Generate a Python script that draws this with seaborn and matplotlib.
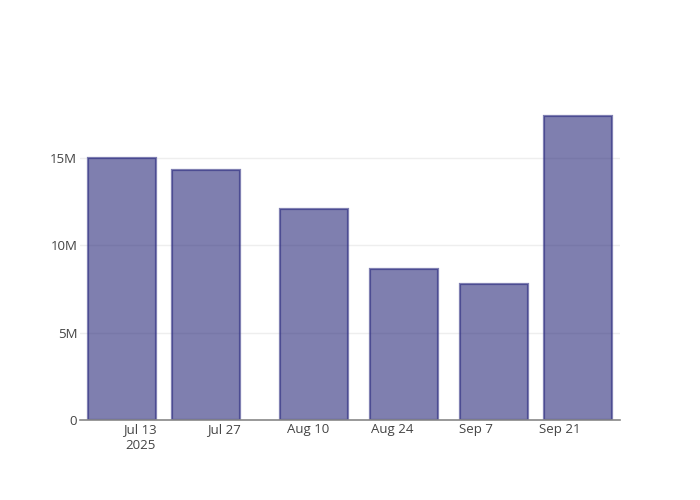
import pandas as pd
import seaborn as sns
import matplotlib.pyplot as plt
import matplotlib.dates as mdates

sns.set_theme(style='white')
plt.rcParams['font.family'] = ['Open Sans', 'DejaVu Sans']

# bar dates and values
dates = ['2025-07-10', '2025-07-24', '2025-08-11', '2025-08-26', '2025-09-10', '2025-09-24']
values = [14.95e6, 14.28e6, 12.06e6, 8.63e6, 7.77e6, 17.37e6]
tick_dates = ['2025-07-13', '2025-07-27', '2025-08-10', '2025-08-24', '2025-09-07', '2025-09-21']
y_ticks = [0, 5e6, 10e6, 15e6]
y_labels = ['0', '5M', '10M', '15M']

df = pd.DataFrame({'date': mdates.date2num(pd.to_datetime(dates)), 'value': values})

fig = plt.figure(figsize=(7, 5), dpi=100)
ax = fig.add_axes([80/700, 80/500, 540/700, 320/500])

sns.barplot(data=df, x='date', y='value', native_scale=True, width=0.8,
            color=(0.165, 0.165, 0.48), alpha=0.6, saturation=1,
            edgecolor=(0.17, 0.17, 0.5), linewidth=1.6, ax=ax)

ax.set_xlim(mdates.date2num(pd.Timestamp('2025-07-03')), mdates.date2num(pd.Timestamp('2025-10-01')))
ax.set_ylim(0, 18.29e6)

tick_nums = mdates.date2num(pd.to_datetime(tick_dates))
ax.set_xticks(tick_nums)
xlabels = [pd.Timestamp(d).strftime('%b %-d') for d in tick_dates]
xlabels[0] = xlabels[0] + '\n2025'
ax.set_xticklabels(xlabels, linespacing=1.3)
ax.set_yticks(y_ticks)
ax.set_yticklabels(y_labels)

ax.grid(axis='y', color='#eeeeee', linewidth=1)
ax.set_axisbelow(True)
for s in ['top', 'right', 'left']:
    ax.spines[s].set_visible(False)
ax.spines['bottom'].set_color('#888888')
ax.spines['bottom'].set_linewidth(1.2)
ax.tick_params(axis='both', length=0, labelsize=9.5, colors='#444444')
ax.tick_params(axis='x', pad=2)
ax.tick_params(axis='y', pad=2)
ax.set_xlabel('')
ax.set_ylabel('')

plt.savefig('out.png', dpi=100)
plt.close('all')
